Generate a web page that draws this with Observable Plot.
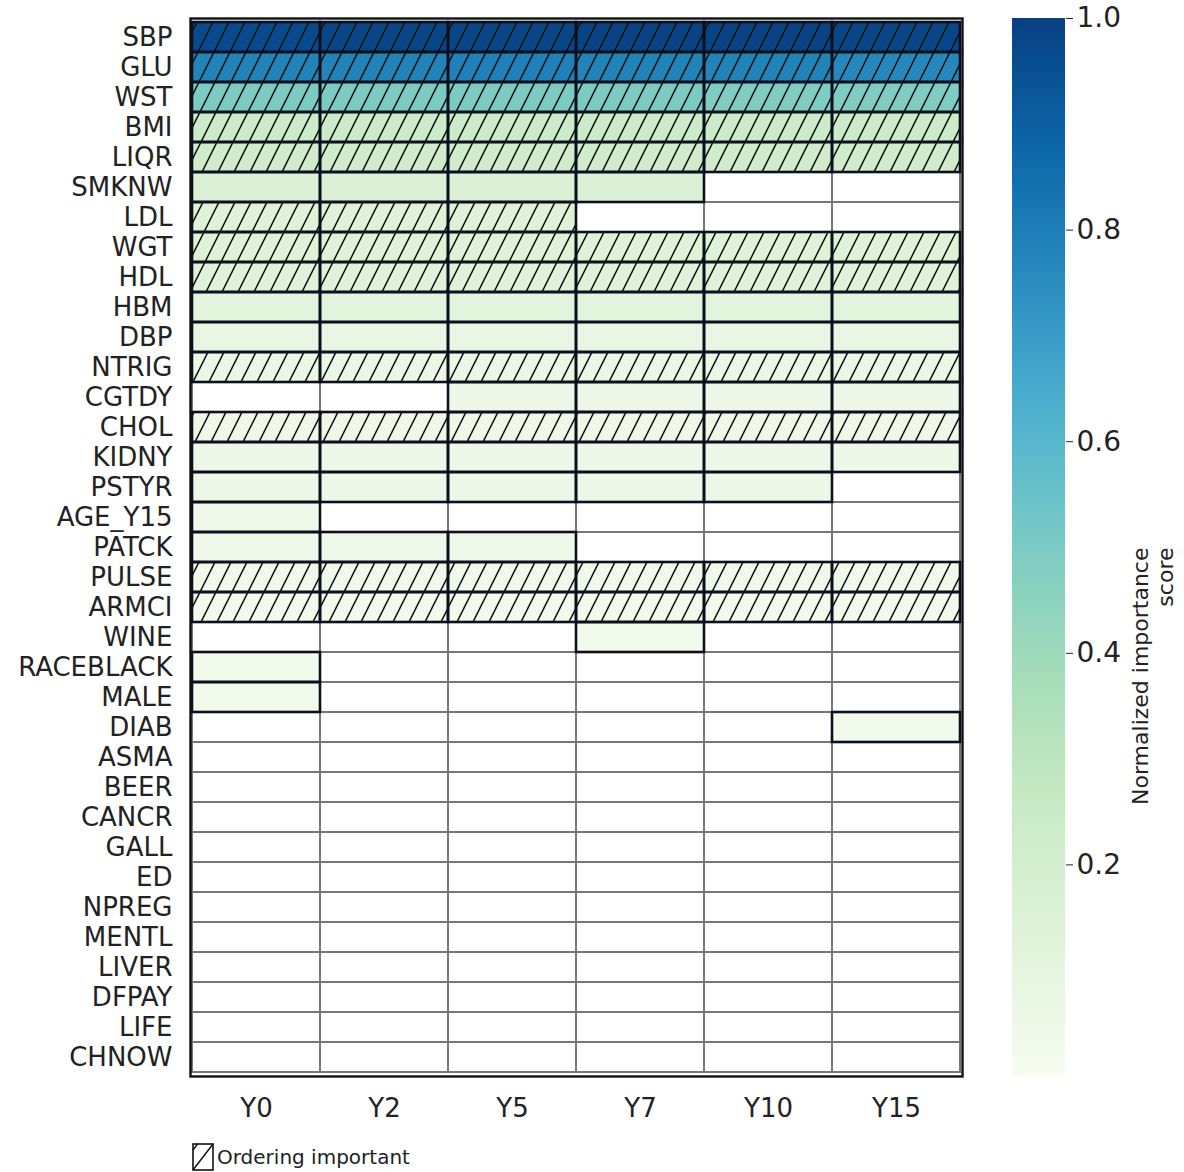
<!DOCTYPE html>
<html><head><meta charset="utf-8">
<script src="https://cdn.jsdelivr.net/npm/d3@7"></script>
<script src="https://cdn.jsdelivr.net/npm/@observablehq/plot@0.6"></script>
<style>
body{margin:0;background:#fff;font-family:"DejaVu Sans",sans-serif;}
#wrap{position:relative;width:1184px;height:1172px;overflow:hidden;}
#main{position:absolute;left:0;top:0;}
#cbar{position:absolute;left:1000px;top:0;}
#legend{position:absolute;left:192px;top:1143px;display:flex;align-items:center;font-size:20px;color:#222;}
#legend svg{margin-right:3px;}
</style></head><body>
<div id="wrap"><div id="main"></div><div id="cbar"></div><div id="legend"></div></div>
<script>
const features = ["SBP","GLU","WST","BMI","LIQR","SMKNW","LDL","WGT","HDL","HBM","DBP","NTRIG","CGTDY","CHOL","KIDNY","PSTYR","AGE_Y15","PATCK","PULSE","ARMCI","WINE","RACEBLACK","MALE","DIAB","ASMA","BEER","CANCR","GALL","ED","NPREG","MENTL","LIVER","DFPAY","LIFE","CHNOW"];
const years = ["Y0","Y2","Y5","Y7","Y10","Y15"];
// normalized importance score per feature (rows) and year (columns); null = not selected
const scores = [
  [0.97,0.98,0.98,0.99,0.99,0.98],
  [0.78,0.78,0.79,0.78,0.78,0.77],
  [0.50,0.50,0.50,0.50,0.49,0.49],
  [0.24,0.24,0.24,0.24,0.24,0.24],
  [0.22,0.22,0.22,0.22,0.22,0.22],
  [0.16,0.16,0.16,0.16,null,null],
  [0.14,0.14,0.14,null,null,null],
  [0.14,0.14,0.14,0.14,0.14,0.14],
  [0.13,0.13,0.13,0.13,0.13,0.13],
  [0.11,0.11,0.11,0.11,0.11,0.11],
  [0.08,0.08,0.08,0.08,0.08,0.08],
  [0.06,0.06,0.06,0.06,0.06,0.06],
  [null,null,0.05,0.05,0.05,0.05],
  [0.05,0.05,0.05,0.05,0.05,0.05],
  [0.05,0.05,0.05,0.05,0.05,0.05],
  [0.05,0.05,0.05,0.05,0.05,null],
  [0.04,null,null,null,null,null],
  [0.04,0.04,0.04,null,null,null],
  [0.04,0.04,0.04,0.04,0.04,0.04],
  [0.03,0.03,0.03,0.03,0.03,0.03],
  [null,null,null,0.03,null,null],
  [0.03,null,null,null,null,null],
  [0.03,null,null,null,null,null],
  [null,null,null,null,null,0.03],
  [null,null,null,null,null,null],
  [null,null,null,null,null,null],
  [null,null,null,null,null,null],
  [null,null,null,null,null,null],
  [null,null,null,null,null,null],
  [null,null,null,null,null,null],
  [null,null,null,null,null,null],
  [null,null,null,null,null,null],
  [null,null,null,null,null,null],
  [null,null,null,null,null,null],
  [null,null,null,null,null,null]
];
const orderingImportant = ["SBP","GLU","WST","BMI","LIQR","LDL","WGT","HDL","NTRIG","CHOL","PULSE","ARMCI"];
const colorTicks = [0.2,0.4,0.6,0.8,1.0];
const colorLabel = "Normalized importance\nscore";
const legendLabel = "Ordering important";

const table = features.flatMap((f, i) => years.map((y, j) => ({
  feature: f, year: y, score: scores[i][j], ordered: orderingImportant.includes(f)
})));
const filled = table.filter(d => d.score != null);
const hatched = filled.filter(d => d.ordered);

const colorOpts = {type: "linear", scheme: "gnbu", domain: [0, 1]};

const main = Plot.plot({
  width: 1000, height: 1130,
  marginLeft: 190, marginRight: 38, marginTop: 18, marginBottom: 54,
  style: {fontFamily: "DejaVu Sans", fontSize: "26px", color: "#222", background: "white"},
  x: {domain: years, padding: 0, tickSize: 0, tickPadding: 22, label: null},
  y: {domain: features, padding: 0, tickSize: 0, tickPadding: 18, label: null},
  color: colorOpts,
  marks: [
    Plot.cell(table, {x: "year", y: "feature", fill: "white", stroke: "#777", strokeWidth: 2, inset: 0}),
    Plot.cell(filled, {x: "year", y: "feature", fill: "score", inset: 0}),
    Plot.cell(hatched, {x: "year", y: "feature", fill: "url(#hatch)", inset: 0}),
    Plot.cell(filled, {x: "year", y: "feature", fill: "none", stroke: "#0b0f1e", strokeWidth: 2.6, inset: 0}),
    Plot.frame({stroke: "#111", strokeWidth: 2.4})
  ]
});
const svgNS = "http://www.w3.org/2000/svg";
const defs = document.createElementNS(svgNS, "defs");
defs.innerHTML = `<pattern id="hatch" patternUnits="userSpaceOnUse" width="16" height="32">
  <path d="M0,32L16,0M-4,8L4,-8M12,40L20,24" stroke="#111" stroke-width="1.5" fill="none"/>
</pattern>`;
main.insertBefore(defs, main.firstChild);
document.getElementById("main").appendChild(main);

const stops = d3.range(0, 1, 0.002);
const cbar = Plot.plot({
  width: 184, height: 1130,
  marginLeft: 12, marginRight: 119, marginTop: 18, marginBottom: 54,
  style: {fontFamily: "DejaVu Sans", fontSize: "28px", color: "#222", background: "white", overflow: "visible"},
  x: {domain: [0, 1], axis: null},
  y: {domain: [0, 1], axis: "right", ticks: colorTicks, tickFormat: ".1f", tickSize: 7, tickPadding: 4, label: null},
  color: colorOpts,
  marks: [
    Plot.rect(stops, {x1: 0, x2: 1, y1: d => d, y2: d => Math.min(1, d + 0.003), fill: d => d + 0.001, inset: 0, shapeRendering: "crispEdges"}),
    Plot.text([colorLabel], {text: d => d, frameAnchor: "right", rotate: -90, dx: 87, fontSize: 22, lineHeight: 1.15, fill: "#222"})
  ]
});
document.getElementById("cbar").appendChild(cbar);

const lg = document.getElementById("legend");
lg.innerHTML = `<svg width="22" height="28" viewBox="0 0 22 28"><rect x="1" y="1" width="20" height="26" fill="white" stroke="#111" stroke-width="1.6"/><path d="M1,27L21,1M1,7L5.6,1" stroke="#111" stroke-width="1.4"/></svg><span>${legendLabel}</span>`;
</script>
</body></html>
